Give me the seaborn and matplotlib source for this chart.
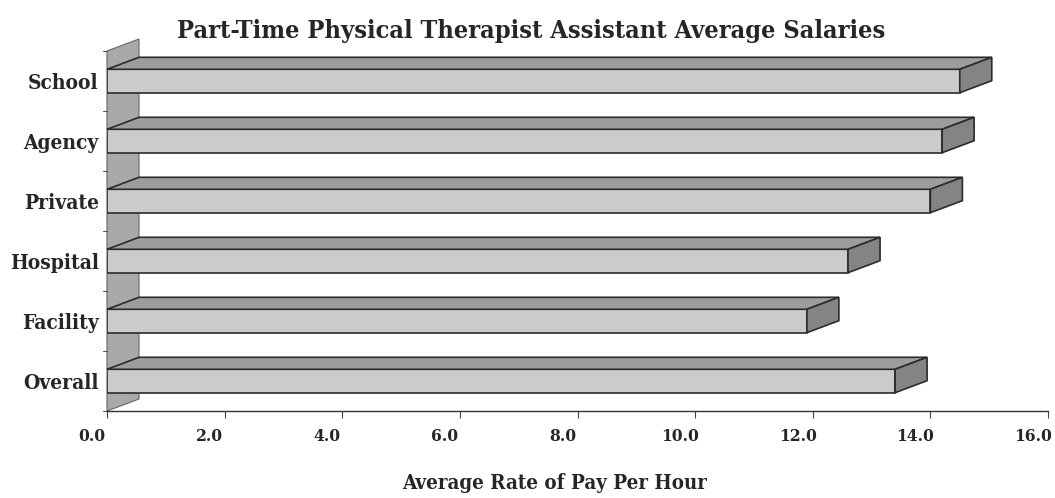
import matplotlib
matplotlib.use("Agg")
import matplotlib.pyplot as plt
from matplotlib.font_manager import FontProperties
from matplotlib.patches import Polygon
from matplotlib.transforms import ScaledTranslation
import seaborn as sns
import pandas as pd

settings = ["School", "Agency", "Private", "Hospital", "Facility", "Overall"]
pay_rate = [14.5, 14.2, 14.0, 12.6, 11.9, 13.4]
x_ticks = [0, 2, 4, 6, 8, 10, 12, 14, 16]

df = pd.DataFrame({"Setting": settings, "Pay": pay_rate})

sns.set_theme(style="white")
plt.rcParams['font.family'] = ['DejaVu Serif']

# condensed bold serif, close to the scanned chart's typeface
COND = "/usr/share/fonts/truetype/dejavu/DejaVuSerifCondensed-Bold.ttf"
try:
    open(COND).close()
    def fp(size):
        return FontProperties(fname=COND, size=size)
except OSError:
    def fp(size):
        return FontProperties(family="DejaVu Serif", weight="bold", size=size)

FRONT = "#cbcbcb"
TOP = "#9d9d9d"
SIDE = "#848484"
WALL = "#a9a9a9"
EDGE = "#2b2b2b"
DX, DY = 32, 12  # depth of the 3D look, in pixels

fig = plt.figure(figsize=(10.55, 4.98), dpi=100)
ax = fig.add_axes([107 / 1055, 87 / 498, 941 / 1055, 360 / 498])

sns.barplot(data=df, x="Pay", y="Setting", orient="h", color=FRONT, width=0.39,
            edgecolor=EDGE, linewidth=1.2, saturation=1, ax=ax, zorder=3)

ax.set_xlim(0, 16)
ax.set_ylim(5.5, -0.5)
ax.set_xticks(x_ticks)
ax.set_xticklabels([f"{t:.1f}" for t in x_ticks], fontproperties=fp(12.5))
ax.set_yticks(range(len(settings)))
ax.set_yticklabels(settings, fontproperties=fp(15))
ax.tick_params(axis="y", length=0, pad=6)
ax.tick_params(axis="x", length=5, width=0.8, color="#444444", direction="out", pad=7, bottom=True)
# value labels sit slightly left of their ticks, as in the original 3D chart
shift = ScaledTranslation(-15 / 100, 0, fig.dpi_scale_trans)
for lab in ax.get_xticklabels():
    lab.set_transform(lab.get_transform() + shift)
ax.set_xlabel("Average Rate of Pay Per Hour", fontproperties=fp(14.7))
ax.xaxis.set_label_coords(0.476, -0.172)
ax.set_ylabel("")
fig.suptitle("Part-Time Physical Therapist Assistant Average Salaries",
             fontproperties=fp(18.2), x=0.503, y=0.962)

for s in ["top", "right", "left"]:
    ax.spines[s].set_visible(False)
ax.spines["bottom"].set_color("#333333")
ax.spines["bottom"].set_linewidth(1.0)

to_disp = ax.transData.transform

# back wall along the category axis
(wx0, wy0), (wx1, wy1) = to_disp([(0, 5.5), (0, -0.5)])
wall = Polygon([(wx0, wy0), (wx1, wy1), (wx1 + DX, wy1 + DY), (wx0 + DX, wy0 + DY)],
               closed=True, facecolor=WALL, edgecolor="#666666", linewidth=0.8,
               transform=None, zorder=1)
wall.set_clip_on(False)
ax.add_artist(wall)

# category boundary ticks on the wall edge
for b in [i - 0.5 for i in range(len(settings) + 1)]:
    bx, by = to_disp((0, b))
    ax.plot([bx - 4, bx], [by, by], color="#555555", lw=0.8, transform=None, clip_on=False)

# top and side faces for each bar
for bar in list(ax.patches):
    if bar is wall:
        continue
    x0, y0 = bar.get_x(), bar.get_y()
    x1, y1 = x0 + bar.get_width(), y0 + bar.get_height()
    (ax0, ay_top), (ax1, _) = to_disp([(x0, y0), (x1, y0)])
    _, ay_bot = to_disp((x1, y1))
    top = Polygon([(ax0, ay_top), (ax1, ay_top), (ax1 + DX, ay_top + DY), (ax0 + DX, ay_top + DY)],
                  closed=True, facecolor=TOP, edgecolor=EDGE, linewidth=1.2,
                  transform=None, zorder=4)
    side = Polygon([(ax1, ay_top), (ax1 + DX, ay_top + DY), (ax1 + DX, ay_bot + DY), (ax1, ay_bot)],
                   closed=True, facecolor=SIDE, edgecolor=EDGE, linewidth=1.2,
                   transform=None, zorder=4)
    for p in (top, side):
        p.set_clip_on(False)
        ax.add_artist(p)

fig.savefig("out.png", dpi=100)
